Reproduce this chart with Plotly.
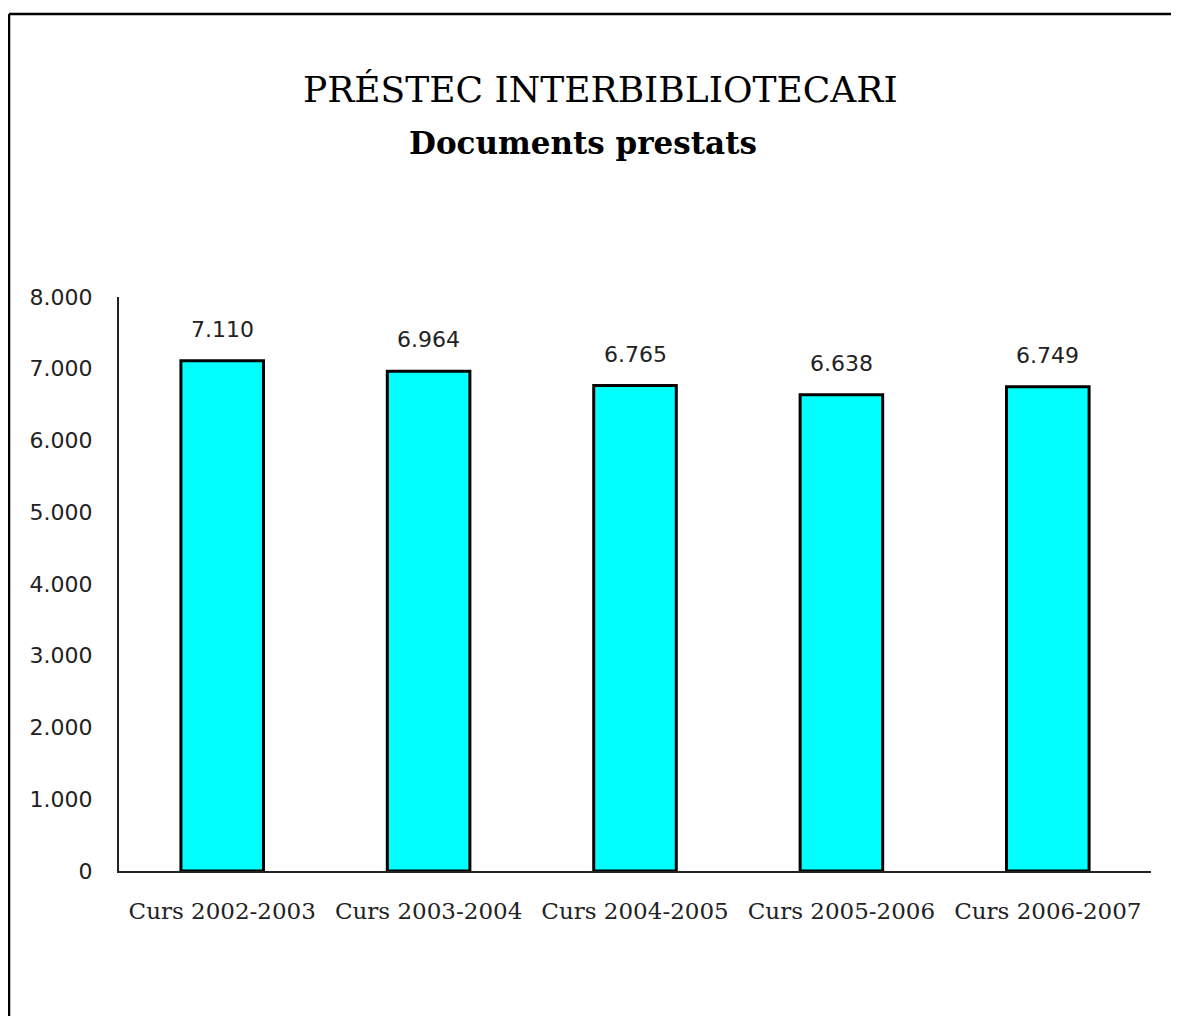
import plotly.graph_objects as go

categories = ["Curs 2002-2003", "Curs 2003-2004", "Curs 2004-2005", "Curs 2005-2006", "Curs 2006-2007"]
values = [7110, 6964, 6765, 6638, 6749]
title_text = "PRÉSTEC INTERBIBLIOTECARI"
subtitle_text = "Documents prestats"
y_ticks = [0, 1000, 2000, 3000, 4000, 5000, 6000, 7000, 8000]

# page has an 8px body margin; work in page pixel coordinates
OFF = 8
W, H = 1171, 1008
L, T = 119 - OFF, 297 - OFF
R = W - (1151 - OFF)
B = H - (871 - OFF)
PW, PH = W - L - R, H - T - B


def px_x(x):
    return (x - OFF - L) / PW


def px_y(y):
    return (H - B - (y - OFF)) / PH


def fmt(v):
    return f"{v:,}".replace(",", ".")


fig = go.Figure()
fig.add_trace(go.Bar(
    x=categories, y=values, width=0.4,
    marker=dict(color="#00FFFF", line=dict(color="black", width=3)),
    hoverinfo="x+y",
))

annotations = []
for c, v in zip(categories, values):
    annotations.append(dict(
        x=c, y=v, xref="x", yref="y", text=fmt(v), showarrow=False,
        yanchor="bottom", yshift=17,
        font=dict(family="DejaVu Sans", size=22, color="#222"),
    ))
annotations.append(dict(
    x=px_x(600), y=px_y(90), xref="paper", yref="paper", text=title_text,
    showarrow=False, xanchor="center", yanchor="middle",
    font=dict(family="DejaVu Serif", size=36, color="black"),
))
annotations.append(dict(
    x=px_x(583), y=px_y(143), xref="paper", yref="paper", text="<b>" + subtitle_text + "</b>",
    showarrow=False, xanchor="center", yanchor="middle",
    font=dict(family="DejaVu Serif", size=31, color="black"),
))

fig.update_layout(
    width=W, height=H,
    margin=dict(l=L, r=R, t=T, b=B, pad=0),
    paper_bgcolor="white", plot_bgcolor="white",
    separators=",.",
    showlegend=False,
    annotations=annotations,
    shapes=[
        dict(type="line", xref="paper", yref="paper",
             x0=px_x(9), x1=px_x(1200), y0=px_y(14), y1=px_y(14),
             line=dict(color="black", width=2.5)),
        dict(type="line", xref="paper", yref="paper",
             x0=px_x(9), x1=px_x(9), y0=px_y(14), y1=px_y(1040),
             line=dict(color="black", width=2.5)),
    ],
    xaxis=dict(
        showline=True, linecolor="#222", linewidth=2, ticks="",
        showgrid=False, zeroline=False,
        tickfont=dict(family="DejaVu Serif", size=23, color="#222"),
        ticklabelstandoff=18,
    ),
    yaxis=dict(
        range=[0, 8000], tickvals=y_ticks, tickformat=",.0f",
        showline=True, linecolor="#222", linewidth=2, ticks="",
        showgrid=False, zeroline=False,
        tickfont=dict(family="DejaVu Sans", size=22, color="#222"),
        ticklabelstandoff=20,
    ),
)

fig.write_html(
    "out.html",
    post_script="document.documentElement.style.overflow='hidden';document.body.style.overflow='hidden';",
)
